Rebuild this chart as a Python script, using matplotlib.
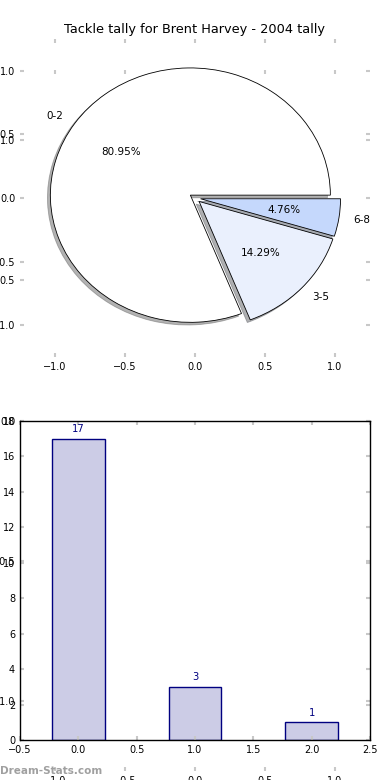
import matplotlib
matplotlib.use('Agg')
import matplotlib.pyplot as plt

# ---- data ----
categories = ['0-2', '3-5', '6-8']
tackles = [17, 3, 1]
bar_positions = [0, 1, 2]
axis_ticks = [-1.0, -0.5, 0.0, 0.5, 1.0]
bar_xticks = [-0.5, 0.0, 0.5, 1.0, 1.5, 2.0, 2.5]
bar_yticks = [0, 2, 4, 6, 8, 10, 12, 14, 16, 18]
title = 'Tackle tally for Brent Harvey - 2004 tally'
watermark = 'Dream-Stats.com'

pie_colors = ['#ffffff', '#eaf0fd', '#c5d8fc']
explode = [0.04, 0.04, 0.04]

fig = plt.figure(figsize=(3.9, 7.8), dpi=100)

tick_kw = dict(direction='in', length=3, width=1.5, color='#c8c8c8',
               labelsize=7, labelcolor='black', top=True, right=True)

# background axes (full height)
bg = fig.add_axes([20/390, 1-771/780, 350/390, 701/780])
bg.set_facecolor('none')
bg.set_xlim(-1.25, 1.25)
bg.set_ylim(-1.25, 1.25)
bg.set_xticks(axis_ticks)
bg.set_yticks(axis_ticks)
for s in bg.spines.values():
    s.set_visible(False)
bg.tick_params(**tick_kw)

# pie axes
ax1 = fig.add_axes([20/390, 1-357/780, 350/390, 318/780])
ax1.set_facecolor('none')
wedges, texts, autotexts = ax1.pie(
    tackles, labels=categories, colors=pie_colors, explode=explode,
    autopct='%.2f%%', shadow=dict(ox=-0.015, oy=-0.015, shade=0.6), frame=True,
    wedgeprops=dict(edgecolor='black', linewidth=0.6),
    textprops=dict(fontsize=7.5, color='black'))
ax1.set_aspect('auto')
ax1.set_xlim(-1.25, 1.25)
ax1.set_ylim(-1.25, 1.25)
ax1.set_xticks(axis_ticks)
ax1.set_yticks(axis_ticks)
for s in ax1.spines.values():
    s.set_visible(False)
ax1.tick_params(**tick_kw)

fig.text(0.5, 1-30/780, title, ha='center', va='center', fontsize=9.3, color='black')

# bar axes
ax2 = fig.add_axes([20/390, 1-740/780, 350/390, 319/780])
ax2.set_facecolor('none')
ax2.bar(bar_positions, tackles, width=0.45, color='#cccce6', edgecolor='navy', linewidth=1)
for x, v in zip(bar_positions, tackles):
    ax2.text(x, v + 0.25, str(v), ha='center', va='bottom', color='navy', fontsize=7.2)
ax2.set_xlim(-0.5, 2.5)
ax2.set_ylim(0, 18)
ax2.set_xticks(bar_xticks)
ax2.set_yticks(bar_yticks)
for s in ax2.spines.values():
    s.set_color('black')
    s.set_linewidth(1)
ax2.tick_params(**tick_kw)

fig.text(0.0, 1-771/780, watermark, ha='left', va='center', fontsize=7.5,
         fontweight='bold', color='#a0a0a0')

fig.savefig('out.png', dpi=100)
